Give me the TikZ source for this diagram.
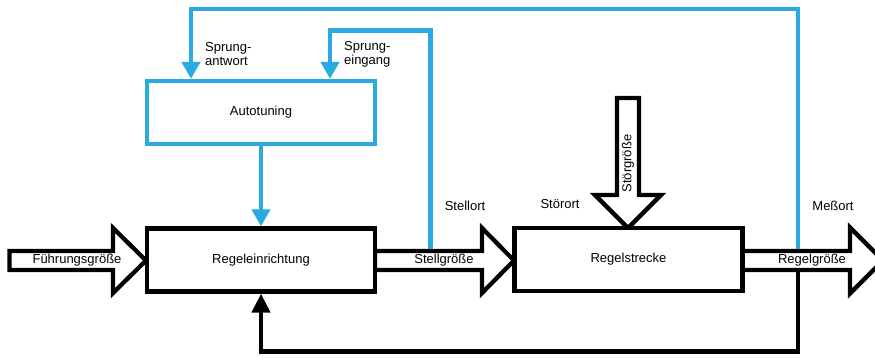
\documentclass[tikz,border=0pt]{standalone}
\usepackage{fontspec}
\setmainfont{Liberation Sans}
\usetikzlibrary{arrows.meta}
\definecolor{tblue}{RGB}{41,171,226}
\begin{document}
\begin{tikzpicture}[x=1pt,y=-1pt,line width=4.3pt,line join=miter,
  lbl/.style={font=\fontsize{13}{14}\selectfont, inner sep=0},
  box/.style={draw=black, fill=white, minimum width=228pt, minimum height=63pt, inner sep=0, font=\fontsize{13}{14}\selectfont},
  abox/.style={box, draw=tblue},
  blockarrow/.style={draw=black, fill=white},
  bluearr/.style={draw=tblue, -{Triangle[length=17pt,width=18pt]}},
  blackarr/.style={draw=black, -{Triangle[length=19pt,width=18pt]}}]
\useasboundingbox (0,0) rectangle (875,357);
% block arrows
\draw[blockarrow] (9.5,251) -- (113,251) -- (113,228) -- (146,260.5) -- (113,293) -- (113,270) -- (9.5,270) -- cycle;
\draw[blockarrow] (375,251) -- (482,251) -- (482,228) -- (514,260.5) -- (482,293) -- (482,270) -- (375,270) -- cycle;
\draw[blockarrow] (742,251) -- (850,251) -- (850,227.5) -- (883,260.5) -- (850,293.5) -- (850,270) -- (742,270) -- cycle;
\draw[blockarrow] (617,98) -- (639,98) -- (639,195) -- (661,195) -- (628,228) -- (595,195) -- (617,195) -- cycle;
% boxes
\node[abox] (auto) at (261,112.5) {Autotuning};
\node[box] (regein) at (261,260) {Regeleinrichtung};
\node[box] (strecke) at (628.5,259.5) {Regelstrecke};
% connector coordinates
\path (auto.north) ++(-70,0) coordinate (atop1);
\path (auto.north) ++(69,0) coordinate (atop2);
\coordinate (mess) at (798,248.8);
\coordinate (messb) at (798,272.2);
\coordinate (stell) at (430.5,248.8);
% connectors
\draw[bluearr] (mess) -- (798,9) -| (atop1);
\draw[bluearr] (stell) -- (430.5,30.5) -| (atop2);
\draw[bluearr] (auto) -- (regein);
\draw[blackarr] (messb) -- (798,351.5) -| (regein.south);
% labels
\node[lbl] (fg) at (77,260.5) {Führungsgröße};
\node[lbl] (sg) at (444,260.5) {Stellgröße};
\node[lbl] (rg) at (812,260.5) {Regelgröße};
\node[lbl, rotate=90] (stg) at (628,163.5) {Störgröße};
\node[lbl] (stellort) at (465,206) {Stellort};
\node[lbl] (stoerort) at (560,204) {Störort};
\node[lbl] (messort) at (833,206) {Meßort};
\node[lbl, align=left, anchor=west] (sa) at (203,54) {Sprung-\\antwort};
\node[lbl, align=left, anchor=west] (se) at (342,54) {Sprung-\\eingang};
\end{tikzpicture}
\end{document}
